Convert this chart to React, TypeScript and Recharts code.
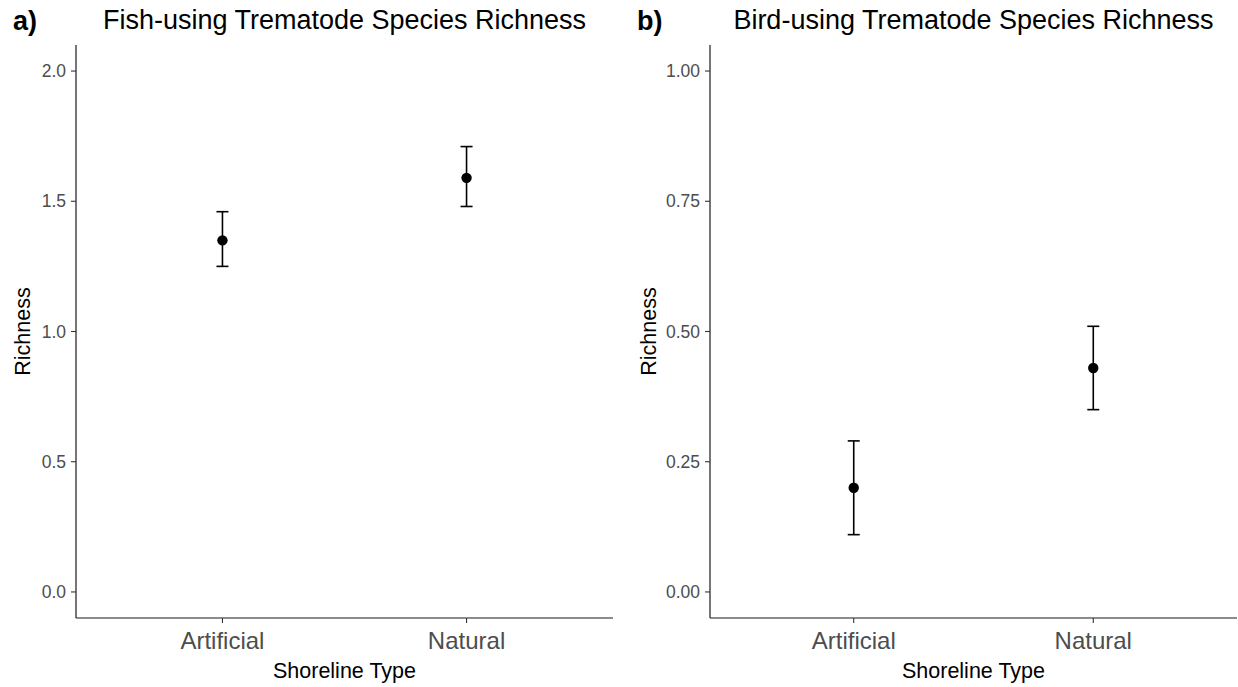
import React from 'react';
import { ScatterChart, Scatter, XAxis, YAxis, ErrorBar } from 'recharts';

// Shoreline categories (x axis)
const shorelineTypes = ['Artificial', 'Natural'];

// Fish-using trematode species richness: mean and interval bounds
const fishMean = [1.35, 1.59];
const fishLower = [1.25, 1.48];
const fishUpper = [1.46, 1.71];

// Bird-using trematode species richness: mean and interval bounds
const birdMean = [0.2, 0.43];
const birdLower = [0.11, 0.35];
const birdUpper = [0.29, 0.51];

// Y axis ticks for each panel
const fishTicks = [0, 0.5, 1, 1.5, 2];
const birdTicks = [0, 0.25, 0.5, 0.75, 1];

const FONT = '"Liberation Sans", Arial, Helvetica, sans-serif';
const AXIS_COLOR = '#1a1a1a';
const TICK_TEXT = '#4d4d4d';

function buildRows(mean: number[], lower: number[], upper: number[]) {
  return shorelineTypes.map((name, i) => ({
    name,
    pos: i + 1,
    mean: mean[i],
    err: [mean[i] - lower[i], upper[i] - mean[i]],
  }));
}

const Dot = (props: any) => <circle cx={props.cx} cy={props.cy} r={5.2} fill="#000" />;

type PanelProps = {
  left: number;
  width: number;
  yAxisWidth: number;
  labelOffset: number;
  rows: ReturnType<typeof buildRows>;
  domain: [number, number];
  ticks: number[];
  digits: number;
};

function Panel({ left, width, yAxisWidth, labelOffset, rows, domain, ticks, digits }: PanelProps) {
  return (
    <div style={{ position: 'absolute', left, top: 0 }}>
      <ScatterChart
        width={width}
        height={687}
        margin={{ top: 45, right: 1, bottom: 0, left: 0 }}
        style={{ fontFamily: FONT }}
      >
        <XAxis
          type="number"
          dataKey="pos"
          domain={[0.4, 2.6]}
          ticks={[1, 2]}
          allowDataOverflow
          tickFormatter={(v: number) => shorelineTypes[v - 1] ?? ''}
          height={69}
          tickSize={5}
          tickMargin={9}
          axisLine={{ stroke: AXIS_COLOR, strokeWidth: 1.2 }}
          tickLine={{ stroke: '#333', strokeWidth: 1.1 }}
          tick={{ fill: TICK_TEXT, fontSize: 24, fontFamily: FONT }}
          label={{
            value: 'Shoreline Type',
            position: 'insideBottom',
            offset: 9,
            style: { fill: '#000', fontSize: 21.5, fontFamily: FONT },
          }}
        />
        <YAxis
          type="number"
          dataKey="mean"
          domain={domain}
          ticks={ticks}
          allowDataOverflow
          width={yAxisWidth}
          tickFormatter={(v: number) => v.toFixed(digits)}
          tickSize={5}
          tickMargin={5}
          axisLine={{ stroke: AXIS_COLOR, strokeWidth: 1.2 }}
          tickLine={{ stroke: '#333', strokeWidth: 1.1 }}
          tick={{ fill: TICK_TEXT, fontSize: 17.5, fontFamily: FONT }}
          label={{
            value: 'Richness',
            angle: -90,
            position: 'insideLeft',
            offset: labelOffset,
            style: { textAnchor: 'middle', fill: '#000', fontSize: 21.5, fontFamily: FONT },
          }}
        />
        <Scatter data={rows} dataKey="mean" shape={Dot} isAnimationActive={false}>
          <ErrorBar dataKey="err" direction="y" width={6} stroke="#000" strokeWidth={1.6} />
        </Scatter>
      </ScatterChart>
    </div>
  );
}

export default function App() {
  const fishRows = buildRows(fishMean, fishLower, fishUpper);
  const birdRows = buildRows(birdMean, birdLower, birdUpper);
  return (
    <div
      style={{
        position: 'absolute',
        left: 0,
        top: 0,
        width: 1238,
        height: 687,
        background: '#fff',
        overflow: 'hidden',
        fontFamily: FONT,
      }}
    >
      <Panel
        left={0}
        width={614}
        yAxisWidth={76}
        labelOffset={22}
        rows={fishRows}
        domain={[-0.1, 2.1]}
        ticks={fishTicks}
        digits={1}
      />
      <Panel
        left={620}
        width={618}
        yAxisWidth={90}
        labelOffset={28}
        rows={birdRows}
        domain={[-0.05, 1.05]}
        ticks={birdTicks}
        digits={2}
      />
      <svg
        width={1238}
        height={687}
        style={{ position: 'absolute', left: 0, top: 0, pointerEvents: 'none' }}
      >
        <text x={13} y={30} fontSize={27} fontWeight="bold" fill="#000" fontFamily={FONT}>
          a)
        </text>
        <text x={344.5} y={29} fontSize={27} textAnchor="middle" fill="#000" fontFamily={FONT}>
          Fish-using Trematode Species Richness
        </text>
        <text x={637} y={30} fontSize={27} fontWeight="bold" fill="#000" fontFamily={FONT}>
          b)
        </text>
        <text x={973.5} y={29} fontSize={27} textAnchor="middle" fill="#000" fontFamily={FONT}>
          Bird-using Trematode Species Richness
        </text>
      </svg>
    </div>
  );
}
